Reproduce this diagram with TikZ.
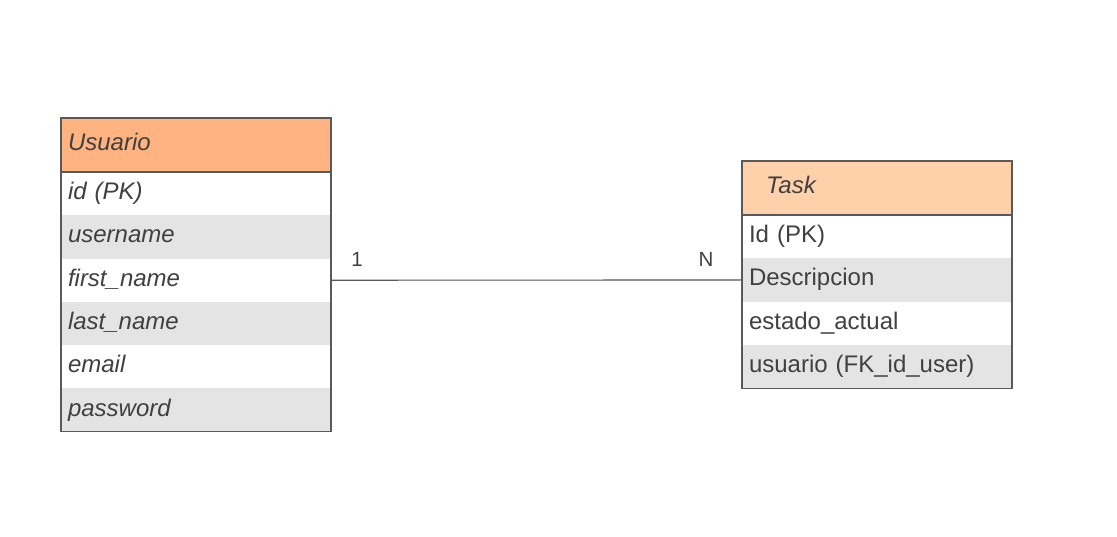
\documentclass[tikz,border=0pt]{standalone}
\usepackage{fontspec}
\setmainfont{Liberation Sans}
\definecolor{txt}{HTML}{404040}
\definecolor{grayrow}{HTML}{E4E4E4}
\definecolor{edge}{HTML}{595959}
\definecolor{hdrA}{HTML}{FFB380}
\definecolor{hdrB}{HTML}{FFD1AA}
\tikzset{
  cell/.style={minimum width=270pt, minimum height=43.3pt, inner ysep=0pt, inner xsep=7pt,
    outer sep=0pt, anchor=north west, text width=256pt, align=left,
    text height=17pt, text depth=5pt, font=\fontsize{24}{27}\selectfont, text=txt},
  hdr/.style={cell, minimum height=54pt},
  white/.style={fill=white},
  shade/.style={fill=grayrow},
  frame/.style={draw=edge, line width=1.1pt},
  link/.style={draw=edge, line width=1.1pt},
  card/.style={font=\fontsize{20.5}{24}\selectfont, text=txt, inner sep=0pt}
}
\begin{document}
\begin{tikzpicture}[x=1pt,y=-1pt]
\useasboundingbox[fill=white] (0,0) rectangle (1117,537);
% Usuario table
\node[hdr, fill=hdrA] (uh) at (61,118) {\itshape Usuario};
\node[cell, white] (u1) at (uh.south west) {\itshape id (PK)};
\node[cell, shade] (u2) at (u1.south west) {\itshape username};
\node[cell, white] (u3) at (u2.south west) {\itshape first\_name};
\node[cell, shade] (u4) at (u3.south west) {\itshape last\_name};
\node[cell, white] (u5) at (u4.south west) {\itshape email};
\node[cell, shade] (u6) at (u5.south west) {\itshape password};
\draw[frame] (uh.north west) rectangle (u6.south east);
\draw[frame] (uh.south west) -- (uh.south east);
% Task table
\node[hdr, fill=hdrB, inner xsep=24pt, text width=222pt] (th) at (742,161) {\itshape Task};
\node[cell, white] (t1) at (th.south west) {Id (PK)};
\node[cell, shade] (t2) at (t1.south west) {Descripcion};
\node[cell, white] (t3) at (t2.south west) {estado\_actual};
\node[cell, shade] (t4) at (t3.south west) {usuario (FK\_id\_user)};
\draw[frame] (th.north west) rectangle (t4.south east);
\draw[frame] (th.south west) -- (th.south east);
% relation
\draw[link] (u3.east) -- (t2.west);
\node[card] (c1) at (357,259) {1};
\node[card] (cn) at (706,259) {N};
\end{tikzpicture}
\end{document}
